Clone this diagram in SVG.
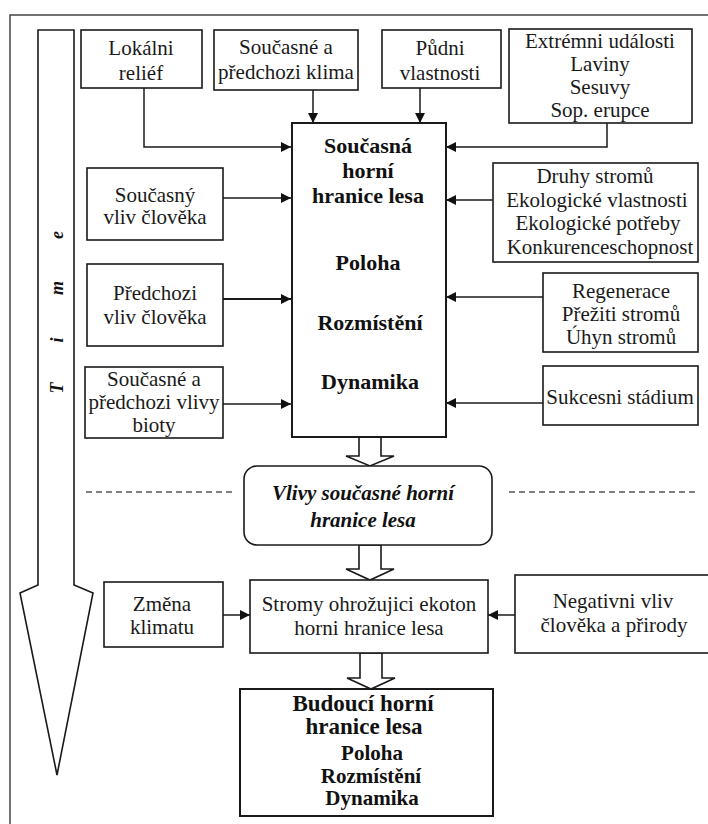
<svg xmlns="http://www.w3.org/2000/svg" width="708" height="824" viewBox="0 0 708 824">
<style>
.bg{fill:#ffffff}
.box{fill:#ffffff;stroke:#1a1a1a;stroke-width:1.6}
.boxb{fill:#ffffff;stroke:#1a1a1a;stroke-width:2}
.t{font-family:"Liberation Serif","Times New Roman",serif;font-size:21px;fill:#1a1a1a;text-anchor:middle}
.tb{font-family:"Liberation Serif","Times New Roman",serif;font-size:22px;font-weight:bold;fill:#111;text-anchor:middle}
.tbi{font-family:"Liberation Serif","Times New Roman",serif;font-size:21px;font-weight:bold;font-style:italic;fill:#111;text-anchor:middle}
.conn{fill:none;stroke:#1a1a1a;stroke-width:1.5}
.hollow{fill:#ffffff;stroke:#1a1a1a;stroke-width:1.6;stroke-linejoin:miter}
.dash{fill:none;stroke:#555;stroke-width:1.3;stroke-dasharray:6 4}
</style>
<defs>
<marker id="ah" viewBox="0 0 10 10" refX="10" refY="5" markerWidth="11" markerHeight="10" markerUnits="userSpaceOnUse" orient="auto">
<path d="M0,0 L10,5 L0,10 z" fill="#111"/>
</marker>
</defs>
<rect class="bg" x="0" y="0" width="708" height="824"/>
<!-- outer frame -->
<path d="M10,840 L10,15 L720,15" fill="none" stroke="#444" stroke-width="1.5"/>

<!-- time arrow -->
<g id="time">
<path class="hollow" d="M38,30 L74,30 L74,585 L93,593 L57,775 L20,593 L38,585 Z"/>
<text class="tbi" style="font-size:18px" transform="translate(63,388) rotate(-90)" x="0 24 48 74 100 126 153" y="0">T i m e</text>
</g>

<g id="connectors">
<path class="conn" d="M144,88 L144,147 L291,147" marker-end="url(#ah)"/>
<path class="conn" d="M313,90 L313,123" marker-end="url(#ah)"/>
<path class="conn" d="M420,88 L420,123" marker-end="url(#ah)"/>
<path class="conn" d="M607,123 L607,147 L446,147" marker-end="url(#ah)"/>
<path class="conn" d="M223,198 L291,198" marker-end="url(#ah)"/>
<path class="conn" style="stroke-width:2.2" d="M223,299 L291,299" marker-end="url(#ah)"/>
<path class="conn" d="M223,404 L291,404" marker-end="url(#ah)"/>
<path class="conn" d="M493,200 L446,200" marker-end="url(#ah)"/>
<path class="conn" d="M543,297 L446,297" marker-end="url(#ah)"/>
<path class="conn" d="M543,403 L446,403" marker-end="url(#ah)"/>
<path class="conn" d="M223,615 L250,615" marker-end="url(#ah)"/>
<path class="conn" d="M515,615 L488,615" marker-end="url(#ah)"/>
<path class="hollow" d="M359,437 L381,437 L381,456 L394,456 L370,466 L346,456 L359,456 Z"/>
<path class="hollow" d="M359,545 L381,545 L381,569 L394,569 L370,580 L346,569 L359,569 Z"/>
<path class="hollow" d="M360,653 L382,653 L382,678 L395,678 L371,689 L347,678 L360,678 Z"/>
<line class="dash" x1="86" y1="492" x2="236" y2="492"/>
<line class="dash" x1="509" y1="492" x2="696" y2="492"/>
</g>

<g id="lokalni">
<rect class="box" x="81" y="30" width="121" height="58"/>
<text class="t" x="141" y="55">Lokálni</text>
<text class="t" x="141" y="80">reliéf</text>
</g>
<g id="klima">
<rect class="box" x="214" y="30" width="144" height="60"/>
<text class="t" x="286" y="54">Současné a</text>
<text class="t" x="286" y="79">předchozi klima</text>
</g>
<g id="pudni">
<rect class="box" x="382" y="30" width="119" height="58"/>
<text class="t" x="440" y="55">Půdni</text>
<text class="t" x="440" y="80">vlastnosti</text>
</g>
<g id="extremni">
<rect class="box" x="509" y="29" width="183" height="94"/>
<text class="t" x="600" y="48">Extrémni události</text>
<text class="t" x="600" y="71">Laviny</text>
<text class="t" x="600" y="94">Sesuvy</text>
<text class="t" x="600" y="117">Sop. erupce</text>
</g>

<g id="main">
<rect class="boxb" x="292" y="123" width="154" height="314"/>
<text class="tb" x="368" y="153">Současná</text>
<text class="tb" x="368" y="178">horní</text>
<text class="tb" x="368" y="203">hranice lesa</text>
<text class="tb" x="368" y="270">Poloha</text>
<text class="tb" x="370" y="330">Rozmístění</text>
<text class="tb" x="370" y="389">Dynamika</text>
</g>

<g id="soucasny">
<rect class="box" x="87" y="168" width="136" height="72"/>
<text class="t" x="155" y="202">Současný</text>
<text class="t" x="155" y="224">vliv člověka</text>
</g>
<g id="predchozi">
<rect class="box" x="87" y="264" width="136" height="82"/>
<text class="t" x="155" y="300">Předchozi</text>
<text class="t" x="155" y="324">vliv člověka</text>
</g>
<g id="bioty">
<rect class="box" x="85" y="367" width="138" height="71"/>
<text class="t" x="154" y="386">Současné a</text>
<text class="t" x="154" y="409">předchozi vlivy</text>
<text class="t" x="154" y="432">bioty</text>
</g>

<g id="druhy">
<rect class="box" x="493" y="163" width="205" height="99"/>
<text class="t" x="595" y="183">Druhy stromů</text>
<text class="t" x="597" y="207">Ekologické vlastnosti</text>
<text class="t" x="598" y="230">Ekologické potřeby</text>
<text class="t" x="600" y="254">Konkurenceschopnost</text>
</g>
<g id="regenerace">
<rect class="box" x="543" y="273" width="155" height="79"/>
<text class="t" x="621" y="298">Regenerace</text>
<text class="t" x="621" y="321">Přežiti stromů</text>
<text class="t" x="621" y="344">Úhyn stromů</text>
</g>
<g id="sukcesni">
<rect class="box" x="543" y="366" width="155" height="59"/>
<text class="t" x="620" y="404">Sukcesni stádium</text>
</g>

<g id="vlivy">
<rect class="box" x="244" y="466" width="248" height="79" rx="13" ry="13"/>
<text class="tbi" x="363" y="500">Vlivy současné horní</text>
<text class="tbi" x="363" y="527">hranice lesa</text>
</g>

<g id="zmena">
<rect class="box" x="104" y="582" width="119" height="65"/>
<text class="t" x="162" y="611">Změna</text>
<text class="t" x="162" y="634">klimatu</text>
</g>
<g id="stromy">
<rect class="box" x="250" y="580" width="238" height="73"/>
<text class="t" x="369" y="611">Stromy ohrožujici ekoton</text>
<text class="t" x="369" y="635">horni hranice lesa</text>
</g>
<g id="negativni">
<rect class="box" x="515" y="575" width="200" height="78"/>
<text class="t" x="613" y="608">Negativni vliv</text>
<text class="t" x="614" y="632">člověka a přirody</text>
</g>

<g id="budouci">
<rect class="boxb" x="240" y="689" width="253" height="127"/>
<text class="tb" style="font-size:23px" x="363" y="711">Budoucí horní</text>
<text class="tb" style="font-size:23px" x="364" y="734">hranice lesa</text>
<text class="tb" style="font-size:21px" x="372" y="760">Poloha</text>
<text class="tb" style="font-size:21px" x="371" y="783">Rozmístění</text>
<text class="tb" style="font-size:21px" x="372" y="805">Dynamika</text>
</g>
</svg>
